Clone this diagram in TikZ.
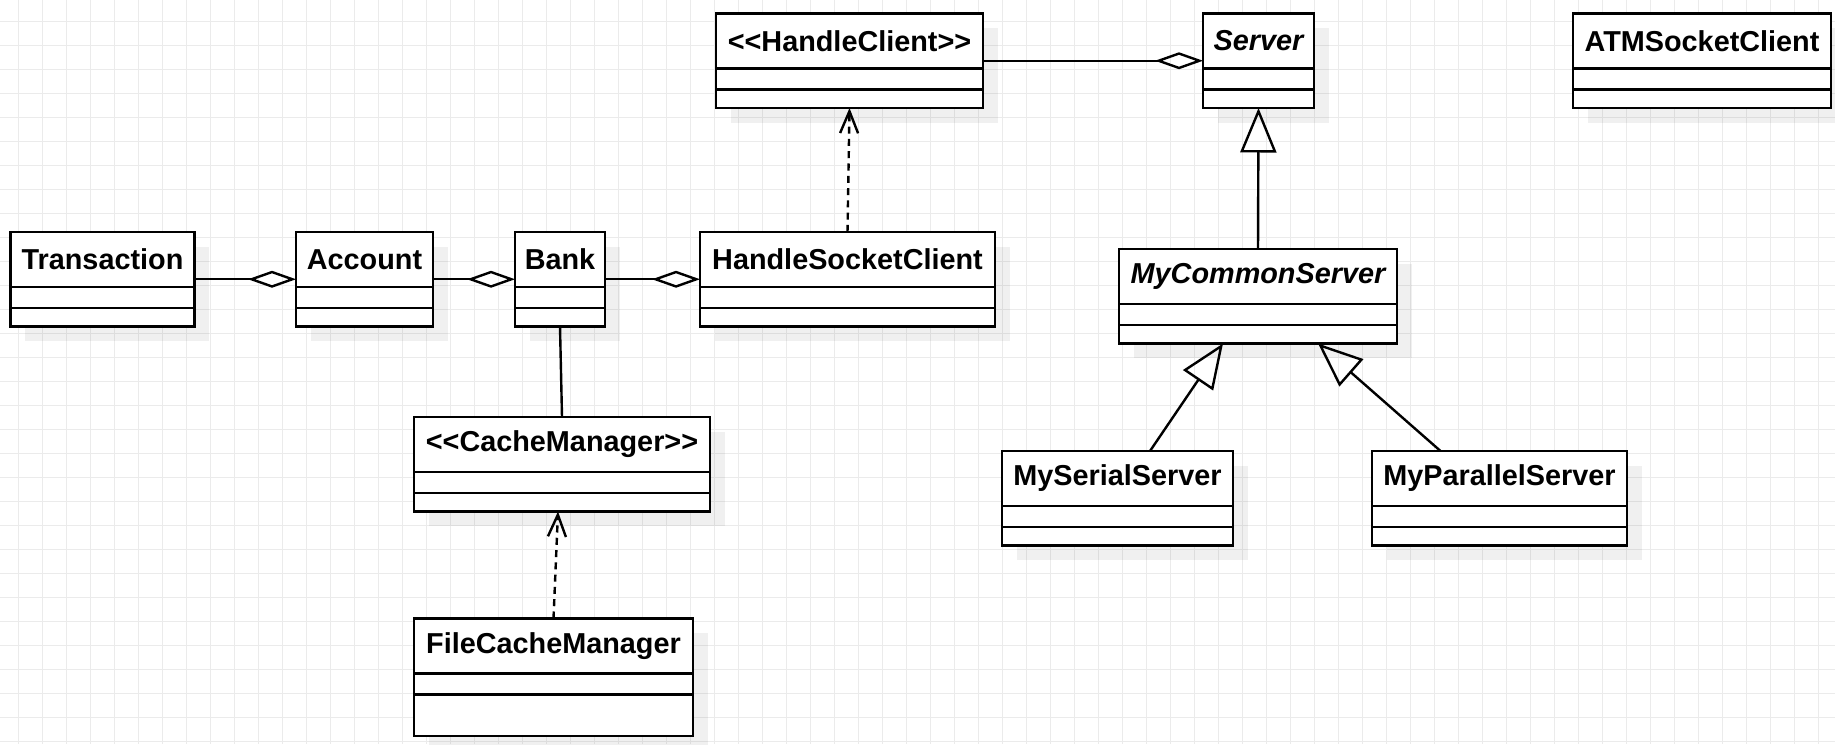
\documentclass[tikz,border=0pt]{standalone}
\usepackage{fontspec}
\newfontfamily\umlfont{Liberation Sans}
\usetikzlibrary{arrows.meta,calc,shadows}

\tikzset{
  gridline/.style={draw=black!8, line width=0.6pt},
  classbox/.style={draw, line width=1.37pt, fill=white, inner sep=0pt, outer sep=0pt,
    anchor=north west,
    general shadow={fill=black, fill opacity=0.06, shadow xshift=0.29cm, shadow yshift=-0.29cm}},
  classtitle/.style={font=\umlfont\bfseries\fontsize{16.4}{19}\selectfont, inner sep=0pt},
  divider/.style={line width=1.37pt},
  link/.style={line width=1.37pt},
  aggr/.style={link, -{Diamond[open, length=0.96cm, width=0.34cm]}},
  depend/.style={link, dash pattern=on 4pt off 3pt, -{Straight Barb[length=0.44cm, width=0.36cm]}},
  inherit/.style={link, -{Triangle[open, length=0.89cm, width=0.72cm]}}
}

% name, left, top, width, height, title
\newcommand\umlclass[6]{%
  \node[classbox, minimum width=#4*0.02cm, minimum height=#5*0.02cm] (#1) at (#2,#3) {};
  \node[classtitle] (#1-title) at ($(#1.north)+(0,27.5)$) {#6};
  \draw[divider] ($(#1.north west)+(0,55)$) -- ($(#1.north east)+(0,55)$);
  \draw[divider] ($(#1.north west)+(0,76)$) -- ($(#1.north east)+(0,76)$);
}

\begin{document}
\begin{tikzpicture}[x=0.02cm, y=-0.02cm]
	\useasboundingbox (0,0) rectangle (1835,744);
	\foreach \gx in {18.3,42.3,...,1835} \draw[gridline] (\gx,0) -- (\gx,744);
	\foreach \gy in {21.3,45.3,...,744} \draw[gridline] (0,\gy) -- (1835,\gy);

	\umlclass{handleclient}{716}{13.5}{267}{94.5}{<<HandleClient>>}
	\umlclass{server}{1203}{13.5}{111}{94.5}{\itshape Server}
	\umlclass{atmclient}{1573}{13.5}{258}{94.5}{ATMSocketClient}
	\umlclass{transaction}{10.5}{232}{184}{94.5}{Transaction}
	\umlclass{account}{296}{232}{137}{94.5}{Account}
	\umlclass{bank}{515}{232}{90}{94.5}{Bank}
	\umlclass{handlesock}{700}{232}{295}{94.5}{HandleSocketClient}
	\umlclass{commonserver}{1119}{249}{278}{94.5}{\itshape MyCommonServer}
	\umlclass{serial}{1002}{451}{231}{94.5}{MySerialServer}
	\umlclass{parallel}{1372}{451}{255}{94.5}{MyParallelServer}
	\umlclass{cachemgr}{414}{417}{296}{94.5}{<<CacheManager>>}
	\umlclass{filecache}{414}{618.5}{279}{117.5}{FileCacheManager}

	\draw[aggr] (transaction.east) -- (account.west);
	\draw[aggr] (account.east) -- (bank.west);
	\draw[aggr] (bank.east) -- (handlesock.west);
	\draw[aggr] (handleclient.east) -- (server.west);
	\draw[depend] (handlesock.north) -- (handleclient.south);
	\draw[inherit] (commonserver.north) -- (server.south);
	\draw[link] (bank.south) -- (cachemgr.north);
	\draw[depend] (filecache.north) -- ($(cachemgr.south)+(-4,0)$);
	\draw[inherit] ($(serial.north)+(32.5,0)$) -- ($(commonserver.south)+(-35,0)$);
	\draw[inherit] ($(parallel.north)+(-59,0)$) -- ($(commonserver.south)+(60,0)$);
\end{tikzpicture}
\end{document}
